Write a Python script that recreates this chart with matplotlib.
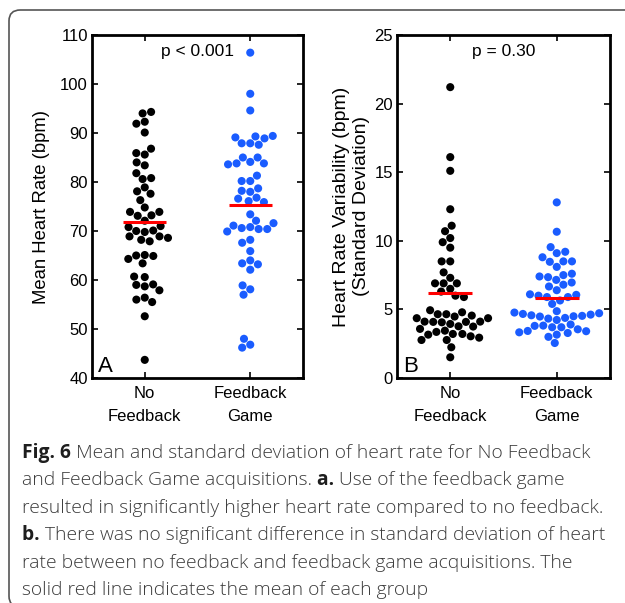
import numpy as np
import matplotlib
matplotlib.use("Agg")
import matplotlib.pyplot as plt
from matplotlib.patches import FancyBboxPatch

plt.rcParams['font.family'] = ['Liberation Sans', 'DejaVu Sans']

# --- data ---
grupos = ["No\nFeedback", "Feedback\nGame"]
cores = ["#000000", "#1a5cff"]

hr_sem_feedback = [94.3, 94.0, 91.9, 92.3, 90.1, 86.8, 85.9, 85.6, 83.4, 84.0,
                   81.8, 80.6, 80.8, 78.9, 78.1, 77.6, 76.3, 74.8, 73.9, 73.9,
                   73.2, 73.1, 72.1, 70.8, 71.0, 70.1, 70.0, 69.8, 68.6, 68.9,
                   68.9, 68.2, 67.9, 65.0, 65.1, 64.9, 64.3, 63.4, 60.7, 60.6,
                   57.9, 58.7, 59.1, 59.0, 56.4, 56.0, 55.5, 52.6, 43.7]
hr_jogo = [106.4, 98.0, 94.6, 89.1, 88.9, 89.3, 89.4, 87.9, 87.9, 87.6,
           85.0, 85.0, 84.1, 83.6, 83.8, 83.8, 81.3, 80.2, 80.2, 78.0,
           78.2, 78.7, 75.9, 76.6, 76.1, 76.8, 73.4, 71.6, 72.1, 70.8,
           71.1, 70.4, 70.6, 69.9, 70.4, 68.2, 67.6, 65.9, 64.0, 63.4,
           63.2, 62.1, 58.9, 58.1, 57.0, 48.0, 46.8, 46.2]

hrv_sem_feedback = [21.2, 16.1, 15.1, 12.3, 11.1, 10.7, 10.2, 9.9, 9.5, 8.5,
                    8.5, 7.7, 7.3, 6.9, 6.9, 6.9, 6.5, 6.3, 6.0, 5.9,
                    4.94, 4.79, 4.65, 4.55, 4.65, 4.36, 4.36, 4.48, 4.09, 4.11,
                    4.09, 3.94, 4.06, 4.11, 3.77, 3.45, 3.75, 3.36, 3.58, 3.16,
                    3.21, 3.21, 2.94, 3.04, 2.77, 2.77, 2.24, 1.51]
hrv_jogo = [12.8, 10.66, 9.54, 9.2, 8.8, 9.1, 8.5, 8.47, 8.5, 8.1,
            7.6, 7.4, 7.5, 6.96, 7.15, 7.35, 6.8, 6.67, 6.4, 6.1,
            6.0, 6.06, 5.9, 5.9, 5.4, 5.65, 4.87, 4.57, 4.53, 4.5,
            4.38, 4.33, 4.72, 4.77, 4.48, 4.67, 4.62, 4.23, 3.8, 3.7,
            3.82, 3.7, 3.9, 3.55, 3.33, 3.16, 3.28, 3.41, 3.43, 3.0, 2.55]

legenda = ("Mean and standard deviation of heart rate for No Feedback",
           "and Feedback Game acquisitions.",
           "Use of the feedback game",
           "resulted in significantly higher heart rate compared to no feedback.",
           "There was no significant difference in standard deviation of heart",
           "rate between no feedback and feedback game acquisitions. The",
           "solid red line indicates the mean of each group")

W, H = 625, 603
fig = plt.figure(figsize=(W / 100, H / 100), dpi=100)


def eixo_px(x0, y0, x1, y1):
    return fig.add_axes([x0 / W, 1 - y1 / H, (x1 - x0) / W, (y1 - y0) / H])


def enxame(ax, centro, valores, gap):
    # beeswarm in pixel space, denser points placed first
    pts = ax.transData.transform(np.column_stack([np.full(len(valores), centro), valores]))
    ys = pts[:, 1]
    px_por_x = ax.transData.transform((1, 0))[0] - ax.transData.transform((0, 0))[0]
    dens = np.exp(-((ys[:, None] - ys[None, :]) / (1.5 * gap)) ** 2).sum(axis=1)
    ordem = np.lexsort((ys, -np.round(dens, 6)))
    postos = []
    offs = np.zeros(len(valores))
    for i in ordem:
        y = ys[i]
        perto = [(px, py) for px, py in postos if abs(py - y) < gap]
        cands = [0.0]
        for px, py in perto:
            dx = np.sqrt(gap ** 2 - (py - y) ** 2)
            cands += [px - dx, px + dx]
        cands.sort(key=lambda c: (round(abs(c), 6), c))
        for c in cands:
            if all((c - px) ** 2 + (y - py) ** 2 >= gap ** 2 - 1e-6 for px, py in perto):
                break
        postos.append((c, y))
        offs[i] = c
    return centro + offs / px_por_x


def painel(ax, series, ylim, yticks, ylabel, ylsize, ptxt, letra):
    ax.set_xlim(0.5, 2.5)
    ax.set_ylim(*ylim)
    ax.set_yticks(yticks)
    ax.set_xticks([1, 2])
    ax.set_xticklabels(grupos, fontsize=11.5, linespacing=1.6)
    ax.tick_params(axis='both', direction='in', length=4, width=1.2,
                   top=True, right=True, labelsize=12, pad=3)
    ax.tick_params(axis='x', pad=6)
    for s in ax.spines.values():
        s.set_linewidth(2.0)
    for k, vals in enumerate(series):
        xs = enxame(ax, k + 1, vals, 8.6)
        ax.scatter(xs, vals, s=34, color=cores[k], edgecolors='none', zorder=3)
        m = np.mean(vals)
        ax.hlines(m, k + 1 - 0.205, k + 1 + 0.205, colors='#ff0000', linewidth=2.2, zorder=4)
    ax.set_ylabel(ylabel, fontsize=ylsize, linespacing=1.2)
    ax.text(0.5, 0.953, ptxt, transform=ax.transAxes, ha='center', va='center', fontsize=12.5)
    ax.text(0.028, 0.017, letra, transform=ax.transAxes, ha='left', va='baseline', fontsize=16)


axA = eixo_px(92, 35, 303, 378)
painel(axA, [hr_sem_feedback, hr_jogo], (40, 110), range(40, 111, 10),
       "Mean Heart Rate (bpm)", 13.3, "p < 0.001", "A")
axA.yaxis.set_label_coords(-0.198, 0.5)

axB = eixo_px(397, 35, 610, 378)
painel(axB, [hrv_sem_feedback, hrv_jogo], (0, 25), range(0, 26, 5),
       "Heart Rate Variability (bpm)\n(Standard Deviation)", 14, "p = 0.30", "B")
axB.yaxis.set_label_coords(-0.127, 0.5)

# border of the figure box
caixa = FancyBboxPatch((9 / W, 1 - 607 / H), 660 / W, 597 / H,
                       boxstyle="round,pad=0,rounding_size=0.018",
                       transform=fig.transFigure, facecolor='none',
                       edgecolor='#555555', linewidth=1.2, clip_on=False)
fig.patches.append(caixa)

# caption with bold pieces
fig.canvas.draw()
r = fig.canvas.get_renderer()
fc = 'Open Sans'
tam = 13.9
cor = '#3c3c3c'


def linha(y, pedacos):
    x = 22
    for txt, negrito in pedacos:
        t = fig.text(x / W, 1 - y / H, txt, fontsize=tam, family=fc,
                     weight='bold' if negrito else 'light',
                     color='#1e1e1e' if negrito else cor, va='center', ha='left')
        bb = t.get_window_extent(renderer=r)
        x += bb.width


y0, dy = 453, 27.4
linha(y0, [("Fig. 6 ", True), (legenda[0], False)])
linha(y0 + dy, [(legenda[1] + " ", False), ("a. ", True), (legenda[2], False)])
linha(y0 + 2 * dy, [(legenda[3], False)])
linha(y0 + 3 * dy, [("b. ", True), (legenda[4], False)])
linha(y0 + 4 * dy, [(legenda[5], False)])
linha(y0 + 5 * dy, [(legenda[6], False)])

fig.savefig("out.png", dpi=100)
